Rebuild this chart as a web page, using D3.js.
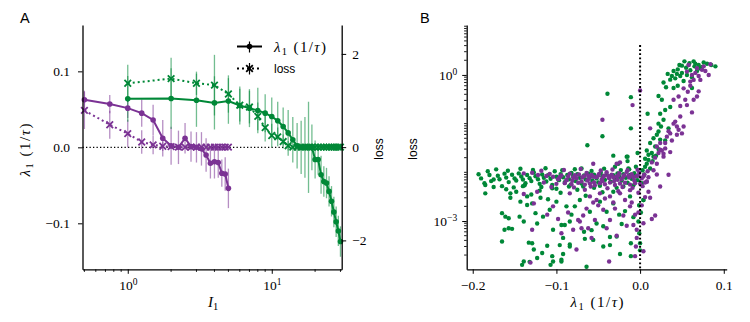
<!DOCTYPE html>
<html><head><meta charset="utf-8">
<script src="https://cdn.jsdelivr.net/npm/d3@7"></script>
<style>body{margin:0;background:#fff}svg{display:block}</style>
</head><body><svg id="c" width="750" height="322"></svg>
<script>
// ---------- Panel A data ----------
const purpleI = [0.5,0.75,1,1.25,1.5,1.75,2,2.25,2.5,2.75,3,3.25,3.5,3.75,4,4.25,4.5,4.75,5];
const purpleLam = [0.0625,0.057,0.0516,0.045,0.036,0.012,0.002,0.0,0.012,0.001,0.0,-0.002,-0.01,-0.021,-0.019,-0.02,-0.034,-0.035,-0.054];
const purpleLamErr = [0.012,0.012,0.013,0.018,0.02,0.024,0.025,0.022,0.02,0.02,0.02,0.022,0.022,0.02,0.022,0.02,0.018,0.022,0.026];
const purpleLoss = [0.79,0.48,0.29,0.11,0.05,0.02,0.01,0,0,0,0,0,0,0,0,0,0,0,0];
const purpleLossErr = [0.4,0.3,0.3,0.25,0.2,0.1,0.05,0.02,0.02,0.02,0.02,0.02,0.02,0.02,0.02,0.02,0.02,0.02,0.02];

const greenI = [1,2,3,4,5,6,7,8,9,10,11,12,13,14,15,16,17,18,19,20,21,22,23,24,25,26,27,28,29,30];
const greenLam = [0.0638,0.0642,0.062,0.0585,0.061,0.055,0.0516,0.0484,0.045,0.0405,0.035,0.0275,0.019,0.01,0.002,0,0,0,0,-0.016,-0.016,-0.036,-0.045,-0.047,-0.058,-0.071,-0.085,-0.098,-0.11,-0.124];
const greenLamErr = [0.03,0.04,0.035,0.035,0.03,0.025,0.025,0.03,0.025,0.025,0.025,0.025,0.03,0.03,0.03,0.035,0.04,0.06,0.03,0.025,0.02,0.025,0.02,0.02,0.02,0.02,0.02,0.02,0.02,0.02];
const greenLoss = [1.37,1.47,1.37,1.33,1.14,0.9,0.86,0.66,0.42,0.25,0.22,0.12,0.03,0,0,0,0,0,0,0,0,0,0,0,0,0,0,0,0,0];
const greenLossErr = [0.4,0.45,0.25,0.65,0.4,0.35,0.35,0.3,0.3,0.25,0.2,0.15,0.1,0.03,0.02,0.02,0.02,0.02,0.02,0.02,0.02,0.02,0.02,0.02,0.02,0.02,0.02,0.02,0.02,0.02];

const xTicksA = [1,10];
const xMinorA = [0.5,0.6,0.7,0.8,0.9,2,3,4,5,6,7,8,9,20,30];
const yTicksA = [-0.1,0,0.1];
const yTickLabelsA = ["\u22120.1","0.0","0.1"];
const yTicksA2 = [-2,0,2];
const yTickLabelsA2 = ["\u22122","0","2"];

// ---------- Panel B data: [lambda1, loss] ----------
const greenScatter = [
[0.053,1.9],[0.064,1.9],[0.076,1.8],[0.08,1.7],[0.09,1.5],[0.033,1.05],[0.04,1.2],[0.045,1.3],[0.048,0.95],[0.055,1.4],[0.058,1.6],[0.06,1.25],[0.065,1.5],[0.07,1.6],[0.072,1.35],[0.05,1.1],[0.056,1.0],[0.062,0.9],[0.042,0.85],[0.036,0.8],[0.028,0.7],[0.031,0.56],[0.04,0.54],[0.045,0.6],[0.062,0.54],[0.052,0.75],[0.068,1.2],[0.074,1.45],[0.085,1.6],[0.047,1.6],[0.059,1.75],[0.066,1.7],[0.05,1.55],[0.044,1.05],[0.038,0.95],
[0.022,0.37],[0.026,0.31],[0.036,0.22],[0.03,0.19],[0.024,0.16],[0.028,0.12],[0.022,0.1],[0.025,0.087],[0.022,0.069],[0.02,0.059],[0.024,0.047],[0.012,0.04],[0.018,0.034],[0.022,0.03],[0.014,0.025],[0.019,0.022],[0.016,0.021],[0.01,0.023],[0.008,0.028],[0.006,0.019],[0.008,0.015],[0.003,0.011],[0.005,0.009],[0.002,0.006],[0.004,0.0027],[-0.001,0.0021],[0.001,0.0015],[0.012,0.012],[0.015,0.017],[0.01,0.018],[0.03,0.045],[0.034,0.08],[0.016,0.05],[0.006,0.013],
[-0.039,0.41],[-0.011,0.35],[-0.045,0.055],[-0.063,0.036],[-0.011,0.08],[-0.032,0.022],[-0.015,0.017],[-0.003,0.025],[0.009,0.16],[-0.026,0.015],[-0.016,0.021],[-0.03,0.013],[-0.07,0.012],[-0.014,0.012],[-0.005,0.013],
[-0.193,0.0091],[-0.186,0.0060],[-0.178,0.0066],[-0.175,0.0071],[-0.17,0.0085],[-0.168,0.0072],[-0.162,0.0094],[-0.16,0.0078],[-0.157,0.0063],[-0.153,0.0089],[-0.15,0.0075],[-0.148,0.0068],[-0.145,0.0095],[-0.142,0.0082],[-0.14,0.0071],[-0.137,0.0060],[-0.135,0.0088],[-0.132,0.0076],[-0.13,0.0066],[-0.127,0.0099],[-0.125,0.0083],[-0.122,0.0072],[-0.12,0.0058],[-0.117,0.0090],[-0.115,0.0077],[-0.112,0.0065],[-0.11,0.0087],[-0.107,0.0074],[-0.105,0.0055],[-0.102,0.0105],[-0.1,0.0081],[-0.097,0.0069],[-0.095,0.0092],[-0.092,0.0079],[-0.09,0.0063],[-0.087,0.0088],[-0.085,0.0072],[-0.082,0.0097],[-0.08,0.0084],[-0.077,0.0066],[-0.075,0.0091],[-0.072,0.0077],[-0.07,0.0059],[-0.067,0.0086],[-0.065,0.0071],[-0.062,0.0094],[-0.06,0.0080],[-0.057,0.0067],[-0.055,0.0089],[-0.052,0.0075],[-0.05,0.0062],[-0.047,0.0098],[-0.045,0.0083],[-0.042,0.0070],[-0.04,0.0090],[-0.037,0.0078],[-0.035,0.0064],[-0.032,0.0087],[-0.03,0.0073],[-0.027,0.0095],[-0.025,0.0081],[-0.022,0.0068],[-0.02,0.0092],[-0.017,0.0077],[-0.015,0.0061],[-0.012,0.0088],[-0.01,0.0074],[-0.007,0.0096],[-0.005,0.0082],[-0.003,0.0069],
[-0.182,0.0105],[-0.172,0.0115],[-0.165,0.0052],[-0.158,0.0108],[-0.151,0.0049],[-0.143,0.0118],[-0.138,0.0054],[-0.128,0.0112],[-0.118,0.0050],[-0.113,0.0121],[-0.1,0.0046],[-0.093,0.0110],[-0.083,0.0056],[-0.078,0.0116],[-0.068,0.0051],[-0.058,0.0107],[-0.048,0.0053],[-0.043,0.0119],[-0.028,0.0048],[-0.023,0.0111],[-0.008,0.0054],[-0.013,0.0115],[-0.19,0.0075],[-0.18,0.0088],
[-0.185,0.0055],[-0.185,0.0037],[-0.175,0.0050],[-0.16,0.0045],[-0.148,0.0040],[-0.14,0.0052],[-0.13,0.0035],[-0.12,0.0042],[-0.105,0.0047],[-0.095,0.0038],[-0.085,0.0051],[-0.075,0.0044],[-0.065,0.0033],[-0.055,0.0048],[-0.045,0.0039],[-0.032,0.0040],[-0.02,0.0051],[-0.012,0.0032],[-0.155,0.0030],[-0.11,0.0028],
[-0.165,0.00145],[-0.161,0.00123],[-0.157,0.00114],[-0.162,0.00066],[-0.165,0.00038],[-0.157,0.00071],[-0.153,0.00069],[-0.144,0.00123],[-0.139,0.00098],[-0.135,0.00214],[-0.133,0.00036],[-0.127,0.00026],[-0.139,0.000148],[-0.141,0.000126],[-0.132,0.000145],[-0.123,0.000174],[-0.117,0.00022],[-0.111,0.00031],[-0.105,0.00019],[-0.107,0.000126],[-0.104,0.000148],[-0.096,0.00032],[-0.094,0.000148],[-0.092,0.00021],[-0.084,0.00033],
[-0.155,0.0037],[-0.143,0.0025],[-0.135,0.0032],[-0.129,0.0023],[-0.119,0.003],[-0.125,0.00145],[-0.116,0.00123],[-0.108,0.0017],[-0.104,0.00066],[-0.1,0.0025],[-0.094,0.00083],[-0.088,0.002],[-0.082,0.00135],[-0.123,0.00089],[-0.129,0.00035],
[-0.011,0.00035],[-0.011,0.00019],[-0.024,0.00021],[-0.028,0.00048],[-0.022,0.00087],[-0.025,0.00135],[-0.036,0.00047],[-0.036,0.00032],[-0.044,0.0003],[-0.056,0.00041],[-0.064,0.000115],[-0.066,0.00043],[-0.067,0.0006],[-0.052,0.00089],[-0.044,0.00078],[-0.032,0.0023],[-0.04,0.00155],[-0.048,0.0025],[-0.06,0.00155],[-0.072,0.0027],[-0.078,0.002],[-0.084,0.00098],[-0.09,0.00083],[-0.092,0.00045],[-0.084,0.0003],[-0.094,0.00016],[-0.001,0.0021],[-0.002,0.00098],[-0.001,0.00056],[0.0,0.00035],[0.0,0.00025],[0.004,0.0027],[-0.015,0.021],[-0.018,0.0016],[-0.008,0.0012],[-0.058,0.00065]
];

const purpleScatter = [
[0.058,1.6],[0.068,1.37],[0.056,1.17],[0.062,1.0],[0.064,0.79],[0.072,0.79],[0.084,1.66],[0.082,1.0],[0.074,1.27],[0.06,0.73],[0.052,0.53],[0.07,0.46],[0.068,0.36],[0.064,0.31],[0.056,0.24],[0.048,0.23],[0.046,0.36],[0.04,0.31],[0.062,0.17],[0.054,0.31],[0.078,1.2],[0.066,1.1],[0.07,0.95],[0.076,1.5],[0.06,0.6],[0.057,0.45],
[0.048,0.14],[0.044,0.087],[0.05,0.063],[0.052,0.087],[0.042,0.11],[0.044,0.059],[0.046,0.075],[0.036,0.063],[0.032,0.054],[0.024,0.04],[0.036,0.026],[0.03,0.031],[0.02,0.034],[0.012,0.08],[0.028,0.021],[0.022,0.025],[0.026,0.028],[0.024,0.029],[0.028,0.024],[0.034,0.0089],[0.024,0.0051],[0.016,0.011],[0.02,0.015],[0.018,0.0013],[0.014,0.0011],[0.004,0.00024],[-0.006,0.00019],[-0.037,0.000148],[0.0,0.48],[-0.009,0.24],[-0.045,0.12],[-0.028,0.015],[-0.024,0.016],[-0.056,0.015],[0.012,0.003],[0.01,0.004],[0.038,0.045],[0.03,0.04],[0.04,0.1],[0.034,0.07],[0.018,0.02],[0.014,0.016],[0.02,0.009],[0.008,0.0065],
[-0.139,0.0095],[-0.129,0.0098],[-0.122,0.0088],[-0.108,0.0093],[-0.104,0.0081],[-0.098,0.0072],[-0.094,0.0086],[-0.088,0.0069],[-0.084,0.0094],[-0.08,0.0078],[-0.076,0.0076],[-0.073,0.0090],[-0.07,0.0065],[-0.067,0.0083],[-0.064,0.0097],[-0.061,0.0074],[-0.058,0.0088],[-0.055,0.0062],[-0.052,0.0079],[-0.049,0.0093],[-0.046,0.0071],[-0.043,0.0085],[-0.04,0.0100],[-0.037,0.0076],[-0.034,0.0089],[-0.031,0.0066],[-0.028,0.0082],[-0.025,0.0096],[-0.022,0.0073],[-0.019,0.0087],[-0.016,0.0102],[-0.013,0.0078],[-0.01,0.0091],[-0.007,0.0068],[-0.004,0.0084],[-0.001,0.0098],[0.002,0.0075],[0.005,0.0089],[0.008,0.0064],
[-0.115,0.0062],[-0.1,0.0058],[-0.09,0.0060],[-0.082,0.0057],[-0.074,0.0061],[-0.066,0.0056],[-0.06,0.0059],[-0.054,0.0054],[-0.048,0.0060],[-0.042,0.0057],[-0.036,0.0062],[-0.03,0.0055],[-0.024,0.0059],[-0.018,0.0061],[-0.012,0.0056],[-0.006,0.0060],[0.0,0.0058],[0.006,0.0062],
[-0.112,0.0084],[-0.096,0.0080],[-0.086,0.0082],[-0.078,0.0087],[-0.069,0.0079],[-0.062,0.0085],[-0.056,0.0081],[-0.05,0.0086],[-0.044,0.0080],[-0.038,0.0084],[-0.032,0.0079],[-0.026,0.0086],[-0.02,0.0081],[-0.014,0.0085],[-0.008,0.0080],[-0.002,0.0086],[0.004,0.0082],[0.01,0.0079],
[-0.118,0.0108],[-0.106,0.0050],[-0.091,0.0112],[-0.079,0.0049],[-0.071,0.0117],[-0.059,0.0051],[-0.047,0.0109],[-0.039,0.0047],[-0.033,0.0114],[-0.021,0.0050],[-0.015,0.0110],[-0.009,0.0048],[-0.003,0.0113],[0.003,0.0052],[0.009,0.0105],[-0.027,0.0070],[-0.045,0.0066],[-0.063,0.0068],[-0.081,0.0067],
[-0.123,0.004],[-0.131,0.00014],[-0.129,0.00066],[-0.127,0.0023],[-0.139,0.0036],[-0.111,0.00135],[-0.104,0.002],[-0.094,0.00056],[-0.08,0.00066],[-0.076,0.00026],[-0.072,0.00098],[-0.054,0.00105],[-0.062,0.00071],[-0.058,0.00045],[-0.074,0.00105],[-0.07,0.00071],[-0.03,0.0018],[-0.04,0.00071],[-0.036,0.00105],[-0.006,0.00135],[-0.008,0.00083],[-0.004,0.00066],[-0.004,0.00045],[-0.005,0.0003],[-0.012,0.002],[-0.018,0.0027],[-0.024,0.0037],[-0.036,0.0032],[-0.048,0.0037],[-0.052,0.0027],[-0.06,0.0032],[-0.066,0.0044],[-0.084,0.0037],[-0.088,0.0069],[-0.044,0.0017],[-0.05,0.0021],[-0.02,0.0013],[-0.016,0.0008],[-0.028,0.0005],[-0.064,0.0018],[-0.086,0.0015],[-0.098,0.0011],[-0.002,0.0015],[0.002,0.0021],[0.004,0.0009],[-0.01,0.0024],[-0.032,0.0024],[-0.056,0.0024],[-0.042,0.0029],[-0.026,0.0041],[-0.012,0.0043],[-0.002,0.0038],[0.006,0.0031],[-0.068,0.0013]
];
const xTicksB = [-0.2,-0.1,0,0.1];
const xTickLabelsB = ["\u22120.2","\u22120.1","0.0","0.1"];
const yTicksB = [1e-3,1];
const yTickExpB = ["\u22123","0"];
const vlineTopB = 4.1;

// ---------- drawing ----------
const GREEN="#008837", PURPLE="#7b3294";
const SERIF="'Liberation Serif','Times New Roman',serif";
const SANS="'Liberation Sans',Arial,sans-serif";
const svg=d3.select("#c");

const A={l:82.5,r:341.7,t:25,b:269.3};
const B={l:466.7,r:726.7,t:25,b:269.3};

const xA=d3.scaleLog().domain([0.485,30.6]).range([A.l,A.r]);
const yA=d3.scaleLinear().domain([-0.1605,0.161]).range([A.b,A.t]);
const yA2=d3.scaleLinear().domain([-2.62,2.62]).range([A.b,A.t]);
const xB=d3.scaleLinear().domain([-0.2072,0.1035]).range([B.l,B.r]);
const yB=d3.scaleLog().domain([1.02e-4,10.6]).range([B.b,B.t]);

function styleAxis(g){
  g.attr("font-family",SERIF).attr("font-size",13);
  g.select(".domain").attr("stroke","#000").attr("stroke-width",1.3);
  g.selectAll(".tick line").attr("stroke","#000").attr("stroke-width",1);
  g.selectAll(".tick text").attr("font-family",SERIF).attr("font-size",13.5).attr("fill","#000");
}
function lamLabel(t, size, len){
  t.attr("font-family",SERIF).attr("font-size",size).attr("fill","#000");
  if(len) t.attr("textLength",len).attr("lengthAdjust","spacing");
  t.append("tspan").attr("font-style","italic").text("\u03bb");
  t.append("tspan").attr("font-size",size*0.7).attr("dy",3).text("1");
  t.append("tspan").attr("dy",-3).text(" (1/");
  t.append("tspan").attr("font-style","italic").text("\u03c4");
  t.append("tspan").text(")");
}

// ----- Panel A -----
const gA=svg.append("g");
gA.append("line").attr("x1",A.l).attr("x2",A.r).attr("y1",yA(0)).attr("y2",yA(0))
  .attr("stroke","#000").attr("stroke-width",1.3).attr("stroke-dasharray","1.3,2.2");

function errbars(xs,ys,es,ysc,color){
  gA.append("g").selectAll("line").data(xs).join("line")
    .attr("x1",d=>xA(d)).attr("x2",d=>xA(d))
    .attr("y1",(d,i)=>ysc(ys[i]-es[i])).attr("y2",(d,i)=>ysc(ys[i]+es[i]))
    .attr("stroke",color).attr("stroke-width",1.3).attr("opacity",0.55);
}
errbars(purpleI,purpleLam,purpleLamErr,yA,PURPLE);
errbars(purpleI,purpleLoss,purpleLossErr,yA2,PURPLE);
errbars(greenI,greenLam,greenLamErr,yA,GREEN);
errbars(greenI,greenLoss,greenLossErr,yA2,GREEN);

function series(xs,ys,ysc,color,dotted){
  const line=d3.line().x(d=>xA(d[0])).y(d=>ysc(d[1]));
  const pts=xs.map((x,i)=>[x,ys[i]]);
  gA.append("path").attr("d",line(pts)).attr("fill","none").attr("stroke",color)
    .attr("stroke-width",2).attr("stroke-dasharray",dotted?"2,3":null);
  if(!dotted){
    gA.append("g").selectAll("circle").data(pts).join("circle")
      .attr("cx",d=>xA(d[0])).attr("cy",d=>ysc(d[1])).attr("r",2.8).attr("fill",color);
  } else {
    const s=3.3;
    gA.append("g").selectAll("path").data(pts).join("path")
      .attr("d",d=>{const x=xA(d[0]),y=ysc(d[1]);return `M${x-s},${y-s}L${x+s},${y+s}M${x-s},${y+s}L${x+s},${y-s}`;})
      .attr("stroke",color).attr("stroke-width",1.8).attr("fill","none");
  }
}
series(purpleI,purpleLoss,yA2,PURPLE,true);
series(purpleI,purpleLam,yA,PURPLE,false);
series(greenI,greenLoss,yA2,GREEN,true);
series(greenI,greenLam,yA,GREEN,false);

const axL=gA.append("g").attr("transform",`translate(${A.l},0)`)
  .call(d3.axisLeft(yA).tickValues(yTicksA).tickFormat((d,i)=>yTickLabelsA[i]).tickSize(4.5).tickPadding(8).tickSizeOuter(0));
styleAxis(axL);
const axR=gA.append("g").attr("transform",`translate(${A.r},0)`)
  .call(d3.axisRight(yA2).tickValues(yTicksA2).tickFormat((d,i)=>yTickLabelsA2[i]).tickSize(4.5).tickPadding(6).tickSizeOuter(0));
styleAxis(axR);
const axB=gA.append("g").attr("transform",`translate(0,${A.b})`)
  .call(d3.axisBottom(xA).tickValues(xTicksA).tickFormat(()=>"10").tickSize(4.5).tickPadding(7).tickSizeOuter(0));
styleAxis(axB);
axB.selectAll(".tick text").each(function(d){
  d3.select(this).append("tspan").attr("dy",-5).attr("font-size",9.5).text(Math.round(Math.log10(d)));
});
gA.append("g").attr("transform",`translate(0,${A.b})`).selectAll("line").data(xMinorA).join("line")
  .attr("x1",d=>xA(d)).attr("x2",d=>xA(d)).attr("y1",0).attr("y2",2.6).attr("stroke","#000").attr("stroke-width",0.9);

svg.append("text").attr("x",20).attr("y",23.3).attr("font-family",SANS).attr("font-size",14.5).text("A");
const ylA=svg.append("text").attr("transform","translate(30,150) rotate(-90)").attr("text-anchor","middle");
lamLabel(ylA,15,53);
svg.append("text").attr("transform","translate(383,149) rotate(-90)").attr("text-anchor","middle")
  .attr("font-family",SANS).attr("font-size",12).text("loss");
const xlA=svg.append("text").attr("x",213).attr("y",307).attr("text-anchor","middle").attr("font-family",SERIF).attr("font-size",15);
xlA.append("tspan").attr("font-style","italic").text("I");
xlA.append("tspan").attr("font-size",10.5).attr("dy",3).text("1");

// legend
const lg=svg.append("g");
lg.append("line").attr("x1",237).attr("x2",262).attr("y1",46.5).attr("y2",46.5).attr("stroke","#000").attr("stroke-width",2);
lg.append("line").attr("x1",249.5).attr("x2",249.5).attr("y1",41.5).attr("y2",52.5).attr("stroke","#000").attr("stroke-width",1.2);
lg.append("circle").attr("cx",249.5).attr("cy",46.5).attr("r",2.8).attr("fill","#000");
lg.append("line").attr("x1",237).attr("x2",262).attr("y1",68.5).attr("y2",68.5).attr("stroke","#000").attr("stroke-width",2).attr("stroke-dasharray","2,3");
lg.append("line").attr("x1",249.5).attr("x2",249.5).attr("y1",63).attr("y2",74.5).attr("stroke","#000").attr("stroke-width",1.2);
lg.append("path").attr("d","M246.2,65.2L252.8,71.8M246.2,71.8L252.8,65.2").attr("stroke","#000").attr("stroke-width",1.8);
const lt=lg.append("text").attr("x",274).attr("y",51.5);
lamLabel(lt,15,52);
lg.append("text").attr("x",274).attr("y",73).attr("font-family",SANS).attr("font-size",12).text("loss");

// ----- Panel B -----
const gB=svg.append("g");
gB.append("g").selectAll("circle").data(greenScatter).join("circle")
  .attr("cx",d=>xB(d[0])).attr("cy",d=>yB(d[1])).attr("r",2.2).attr("fill",GREEN);
gB.append("g").selectAll("circle").data(purpleScatter).join("circle")
  .attr("cx",d=>xB(d[0])).attr("cy",d=>yB(d[1])).attr("r",2.2).attr("fill",PURPLE);
gB.append("line").attr("x1",xB(0)).attr("x2",xB(0)).attr("y1",yB(vlineTopB)).attr("y2",B.b)
  .attr("stroke","#000").attr("stroke-width",2).attr("stroke-dasharray","1.8,2.3");

const bxAx=gB.append("g").attr("transform",`translate(0,${B.b})`)
  .call(d3.axisBottom(xB).tickValues(xTicksB).tickFormat((d,i)=>xTickLabelsB[i]).tickSize(4.5).tickPadding(7).tickSizeOuter(0));
styleAxis(bxAx);
const byAx=gB.append("g").attr("transform",`translate(${B.l},0)`)
  .call(d3.axisLeft(yB).tickValues(yTicksB).tickFormat(()=>"10").tickSize(4.5).tickPadding(5).tickSizeOuter(0));
styleAxis(byAx);
byAx.selectAll(".tick text").each(function(d,i){
  d3.select(this).append("tspan").attr("dy",-5).attr("font-size",9.5).text(yTickExpB[i]);
});
const minorB=yB.ticks().filter(v=>!yTicksB.some(m=>Math.abs(m-v)/m<1e-6));
gB.append("g").attr("transform",`translate(${B.l},0)`).selectAll("line").data(minorB).join("line")
  .attr("x1",0).attr("x2",-2.6).attr("y1",d=>yB(d)).attr("y2",d=>yB(d)).attr("stroke","#000").attr("stroke-width",0.9);

svg.append("text").attr("x",420).attr("y",23.3).attr("font-family",SANS).attr("font-size",14.5).text("B");
svg.append("text").attr("transform","translate(417,149) rotate(-90)").attr("text-anchor","middle")
  .attr("font-family",SANS).attr("font-size",12).text("loss");
const xlB=svg.append("text").attr("x",597).attr("y",307).attr("text-anchor","middle");
lamLabel(xlB,15,53);
</script></body></html>
